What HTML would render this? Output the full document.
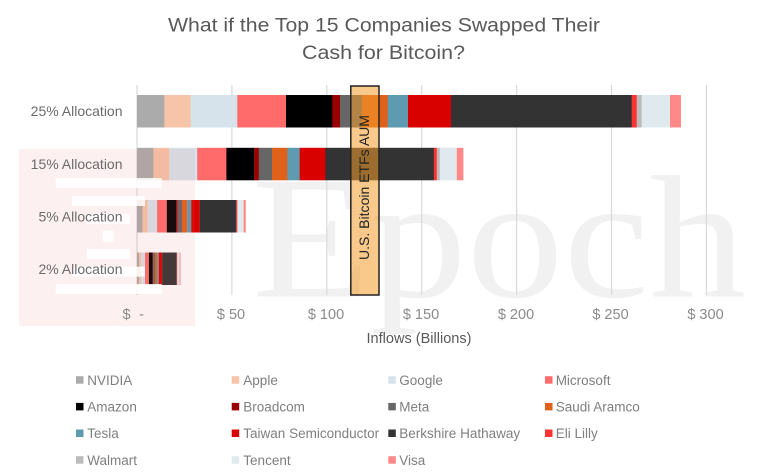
<!DOCTYPE html>
<html>
<head>
<meta charset="utf-8">
<style>
  html, body { margin:0; padding:0; background:#ffffff; }
  body { width:776px; height:475px; overflow:hidden; }
  svg { display:block; }
  text { font-family: "Liberation Sans", "DejaVu Sans", sans-serif; }
</style>
</head>
<body>
<svg width="776" height="475" viewBox="0 0 776 475" xmlns="http://www.w3.org/2000/svg">
  <rect x="0" y="0" width="776" height="475" fill="#ffffff"/>

  <!-- watermark word -->
  <text x="252" y="296.5" font-family="Liberation Serif, serif" font-size="175" fill="#f1f1f1" textLength="494" lengthAdjust="spacingAndGlyphs" style="font-family:'Liberation Serif',serif">Epoch</text>

  <!-- gridlines -->
  <g stroke="#d9d9d9" stroke-width="1.2">
    <line x1="137" y1="85" x2="137" y2="295"/>
    <line x1="231.9" y1="85" x2="231.9" y2="295"/>
    <line x1="326.8" y1="85" x2="326.8" y2="295"/>
    <line x1="421.7" y1="85" x2="421.7" y2="295"/>
    <line x1="516.6" y1="85" x2="516.6" y2="295"/>
    <line x1="611.5" y1="85" x2="611.5" y2="295"/>
    <line x1="706.4" y1="85" x2="706.4" y2="295"/>
  </g>

  <defs>
    <g id="segs">
      <rect x="0" y="0" width="27.6" height="32.5" fill="#ababab"/>
      <rect x="27.3" y="0" width="26.7" height="32.5" fill="#f5c4a9"/>
      <rect x="53.7" y="0" width="46.9" height="32.5" fill="#d6e3ea"/>
      <rect x="100.3" y="0" width="49" height="32.5" fill="#ff6b6b"/>
      <rect x="149" y="0" width="46.6" height="32.5" fill="#000000"/>
      <rect x="195.3" y="0" width="8" height="32.5" fill="#990000"/>
      <rect x="203" y="0" width="22.3" height="32.5" fill="#666666"/>
      <rect x="225" y="0" width="26" height="32.5" fill="#e0611a"/>
      <rect x="250.7" y="0" width="20.6" height="32.5" fill="#5e9bb0"/>
      <rect x="271" y="0" width="43.3" height="32.5" fill="#d90000"/>
      <rect x="314" y="0" width="181" height="32.5" fill="#333333"/>
      <rect x="494.7" y="0" width="5.3" height="32.5" fill="#ff3333"/>
      <rect x="499.7" y="0" width="5.3" height="32.5" fill="#bcbcbc"/>
      <rect x="504.7" y="0" width="28.6" height="32.5" fill="#dfe9ee"/>
      <rect x="533" y="0" width="11" height="32.5" fill="#ff8888"/>
    </g>
  </defs>

  <!-- bars -->
  <use href="#segs" transform="translate(137,95) scale(1,1)"/>
  <use href="#segs" transform="translate(137,147.8) scale(0.6,1)"/>
  <use href="#segs" transform="translate(137,200) scale(0.2,1)"/>
  <use href="#segs" transform="translate(137,252.5) scale(0.08,1)"/>

  <!-- AUM box -->
  <rect x="350.8" y="86" width="28.2" height="209" fill="#f29d2c" fill-opacity="0.55" stroke="#222222" stroke-width="1.5"/>
  <text transform="translate(369,187.5) rotate(-90)" text-anchor="middle" font-size="14" fill="#222222" textLength="145" lengthAdjust="spacingAndGlyphs">U.S. Bitcoin ETFs AUM</text>

  <!-- watermark logo block -->
  <rect x="19" y="149" width="176" height="177" fill="rgb(225,115,105)" fill-opacity="0.1"/>
  <g fill="#ffffff" fill-opacity="0.85">
    <rect x="55.7" y="178" width="106" height="10"/>
    <rect x="72" y="196" width="73" height="10"/>
    <rect x="86.7" y="214" width="43.3" height="10"/>
    <rect x="102.7" y="230.7" width="11.3" height="11"/>
    <rect x="86.7" y="249" width="43.3" height="10"/>
    <rect x="72" y="266.7" width="73" height="10"/>
    <rect x="55.7" y="284" width="106" height="10"/>
  </g>

  <!-- title -->
  <text x="384" y="31.5" text-anchor="middle" font-size="19" fill="#595959" textLength="432" lengthAdjust="spacingAndGlyphs">What if the Top 15 Companies Swapped Their</text>
  <text x="383.5" y="59" text-anchor="middle" font-size="19" fill="#595959" textLength="163" lengthAdjust="spacingAndGlyphs">Cash for Bitcoin?</text>

  <!-- category labels -->
  <g font-size="14" fill="#6b6b6b" text-anchor="end">
    <text x="122.5" y="116">25% Allocation</text>
    <text x="122.5" y="168.8">15% Allocation</text>
    <text x="122.5" y="221.5">5% Allocation</text>
    <text x="122.5" y="274">2% Allocation</text>
  </g>

  <!-- tick labels -->
  <g font-size="14.5" fill="#8a8a8a" text-anchor="middle">
    <text x="126.5" y="319">$</text>
    <text x="141.5" y="319">-</text>
    <text x="231" y="319">$ 50</text>
    <text x="326" y="319">$ 100</text>
    <text x="421" y="319">$ 150</text>
    <text x="516" y="319">$ 200</text>
    <text x="610.5" y="319">$ 250</text>
    <text x="705.5" y="319">$ 300</text>
  </g>

  <!-- axis title -->
  <text x="419" y="343" text-anchor="middle" font-size="14.5" fill="#595959" textLength="105" lengthAdjust="spacingAndGlyphs">Inflows (Billions)</text>

  <!-- legend -->
  <g font-size="13.5" fill="#7f7f7f">
    <!-- row 1 -->
    <rect x="76" y="376.2" width="7.5" height="7.5" fill="#ababab"/>
    <text x="87.3" y="384.8">NVIDIA</text>
    <rect x="231.7" y="376.2" width="7.5" height="7.5" fill="#f5c4a9"/>
    <text x="243.3" y="384.8">Apple</text>
    <rect x="388.3" y="376.2" width="7.5" height="7.5" fill="#d6e3ea"/>
    <text x="399.3" y="384.8">Google</text>
    <rect x="545" y="376.2" width="7.5" height="7.5" fill="#ff6b6b"/>
    <text x="555.7" y="384.8">Microsoft</text>
    <!-- row 2 -->
    <rect x="76" y="402.9" width="7.5" height="7.5" fill="#000000"/>
    <text x="87.3" y="411.5">Amazon</text>
    <rect x="231.7" y="402.9" width="7.5" height="7.5" fill="#990000"/>
    <text x="243.3" y="411.5">Broadcom</text>
    <rect x="388.3" y="402.9" width="7.5" height="7.5" fill="#666666"/>
    <text x="399.3" y="411.5">Meta</text>
    <rect x="545" y="402.9" width="7.5" height="7.5" fill="#e0611a"/>
    <text x="555.7" y="411.5">Saudi Aramco</text>
    <!-- row 3 -->
    <rect x="76" y="429.5" width="7.5" height="7.5" fill="#5e9bb0"/>
    <text x="87.3" y="438.1">Tesla</text>
    <rect x="231.7" y="429.5" width="7.5" height="7.5" fill="#d90000"/>
    <text x="243.3" y="438.1">Taiwan Semiconductor</text>
    <rect x="388.3" y="429.5" width="7.5" height="7.5" fill="#333333"/>
    <text x="399.3" y="438.1">Berkshire Hathaway</text>
    <rect x="545" y="429.5" width="7.5" height="7.5" fill="#ff3333"/>
    <text x="555.7" y="438.1">Eli Lilly</text>
    <!-- row 4 -->
    <rect x="76" y="456.2" width="7.5" height="7.5" fill="#bcbcbc"/>
    <text x="87.3" y="464.8">Walmart</text>
    <rect x="231.7" y="456.2" width="7.5" height="7.5" fill="#dfe9ee"/>
    <text x="243.3" y="464.8">Tencent</text>
    <rect x="388.3" y="456.2" width="7.5" height="7.5" fill="#ff8888"/>
    <text x="399.3" y="464.8">Visa</text>
  </g>
</svg>
</body>
</html>
